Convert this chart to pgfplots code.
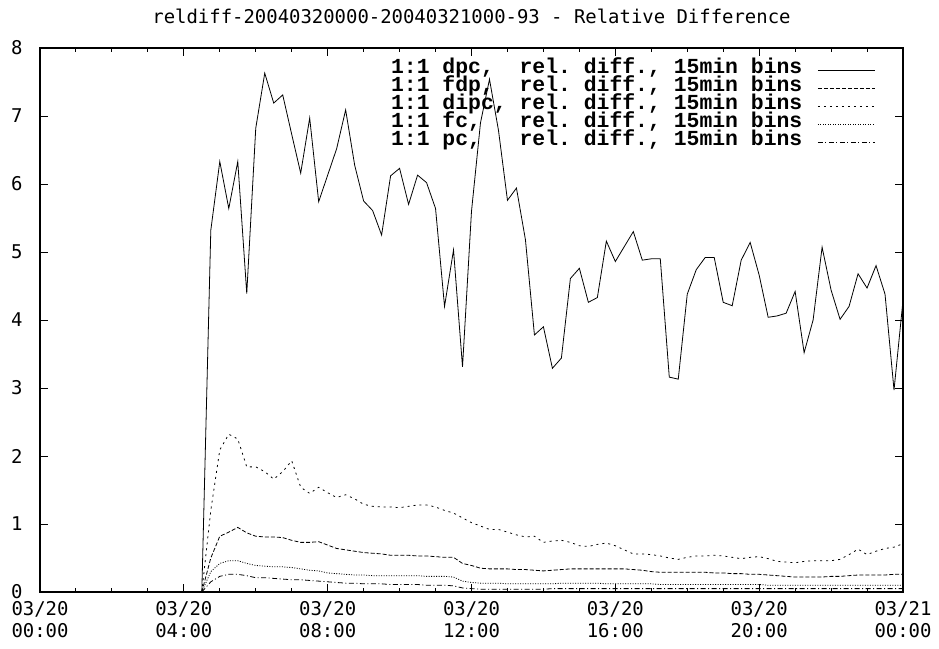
\documentclass[border=0pt]{standalone}
\usepackage{fontspec}
\usepackage{pgfplots}
\usepackage{pgfplotstable}
\pgfplotsset{compat=1.18}
\setmainfont{DejaVu Sans Mono}
\newfontfamily\legfont{Liberation Mono}

% h = hour of day (15 min bins), relative differences
\pgfplotstableread{
h     dpc   fdp   dipc  fc    pc
4.50  0     0     0     0     0
4.75  5.32  0.50  1.20  0.30  0.15
5.00  6.33  0.82  2.09  0.42  0.23
5.25  5.64  0.88  2.32  0.46  0.26
5.50  6.33  0.95  2.25  0.46  0.26
5.75  4.39  0.87  1.84  0.42  0.24
6.00  6.82  0.82  1.84  0.39  0.21
6.25  7.63  0.81  1.77  0.38  0.21
6.50  7.19  0.81  1.66  0.37  0.20
6.75  7.31  0.80  1.77  0.37  0.19
7.00  6.73  0.76  1.93  0.36  0.18
7.25  6.16  0.73  1.54  0.34  0.18
7.50  6.97  0.73  1.45  0.32  0.17
7.75  5.74  0.74  1.54  0.31  0.16
8.00  6.13  0.69  1.46  0.28  0.15
8.25  6.52  0.64  1.39  0.27  0.14
8.50  7.09  0.62  1.43  0.26  0.13
8.75  6.28  0.60  1.37  0.25  0.13
9.00  5.75  0.58  1.29  0.25  0.12
9.25  5.61  0.57  1.26  0.24  0.12
9.50  5.25  0.56  1.25  0.24  0.12
9.75  6.12  0.54  1.25  0.24  0.11
10.00 6.23  0.54  1.24  0.24  0.11
10.25 5.70  0.54  1.26  0.24  0.11
10.50 6.13  0.53  1.28  0.24  0.11
10.75 6.02  0.53  1.28  0.23  0.10
11.00 5.64  0.52  1.25  0.23  0.10
11.25 4.20  0.51  1.20  0.23  0.10
11.50 5.03  0.51  1.16  0.22  0.09
11.75 3.31  0.42  1.09  0.16  0.06
12.00 5.60  0.39  1.02  0.14  0.05
12.25 6.90  0.35  0.97  0.13  0.04
12.50 7.54  0.34  0.92  0.13  0.04
12.75 6.79  0.34  0.92  0.13  0.04
13.00 5.76  0.34  0.88  0.12  0.04
13.25 5.94  0.33  0.84  0.12  0.04
13.50 5.18  0.33  0.81  0.12  0.04
13.75 3.78  0.32  0.82  0.12  0.04
14.00 3.90  0.31  0.73  0.12  0.04
14.25 3.29  0.32  0.75  0.12  0.05
14.50 3.44  0.33  0.76  0.13  0.05
14.75 4.61  0.34  0.73  0.13  0.05
15.00 4.76  0.34  0.68  0.13  0.05
15.25 4.26  0.34  0.67  0.13  0.05
15.50 4.33  0.34  0.70  0.13  0.05
15.75 5.16  0.34  0.72  0.12  0.05
16.00 4.86  0.34  0.68  0.12  0.05
16.25 5.08  0.34  0.62  0.12  0.05
16.50 5.30  0.33  0.56  0.12  0.05
16.75 4.88  0.32  0.56  0.12  0.05
17.00 4.90  0.30  0.55  0.12  0.05
17.25 4.90  0.29  0.53  0.11  0.05
17.50 3.16  0.29  0.50  0.11  0.05
17.75 3.13  0.29  0.48  0.11  0.05
18.00 4.38  0.29  0.51  0.11  0.05
18.25 4.74  0.29  0.53  0.11  0.05
18.50 4.92  0.29  0.53  0.11  0.05
18.75 4.92  0.28  0.54  0.11  0.05
19.00 4.26  0.28  0.53  0.11  0.05
19.25 4.21  0.27  0.51  0.11  0.05
19.50 4.88  0.27  0.49  0.11  0.05
19.75 5.14  0.26  0.51  0.11  0.05
20.00 4.66  0.26  0.52  0.11  0.05
20.25 4.04  0.25  0.49  0.10  0.05
20.50 4.06  0.24  0.45  0.10  0.05
20.75 4.10  0.23  0.44  0.10  0.05
21.00 4.42  0.22  0.43  0.10  0.05
21.25 3.52  0.22  0.45  0.10  0.05
21.50 4.00  0.22  0.46  0.10  0.05
21.75 5.07  0.22  0.46  0.10  0.05
22.00 4.44  0.23  0.46  0.10  0.05
22.25 4.01  0.23  0.48  0.10  0.05
22.50 4.20  0.24  0.55  0.10  0.05
22.75 4.68  0.25  0.63  0.10  0.05
23.00 4.47  0.25  0.55  0.10  0.05
23.25 4.80  0.25  0.60  0.10  0.05
23.50 4.38  0.25  0.64  0.10  0.05
23.75 2.97  0.26  0.66  0.10  0.05
24.00 4.29  0.26  0.71  0.10  0.05
}\reldiff

\begin{document}
\begin{tikzpicture}
\useasboundingbox (-40bp,-57bp) rectangle (899bp,592bp);
\begin{axis}[
    scale only axis,
    width=863bp, height=544bp,
    xmin=0, xmax=24, ymin=0, ymax=8,
    xtick={0,4,...,24},
    minor xtick={1,2,3,5,6,7,9,10,11,13,14,15,17,18,19,21,22,23},
    xticklabels={03/20\\00:00,03/20\\04:00,03/20\\08:00,03/20\\12:00,03/20\\16:00,03/20\\20:00,03/21\\00:00},
    ytick={0,1,...,8},
    tick align=inside,
    major tick length=8bp, minor tick length=4bp,
    tick style={black, line width=1bp},
    axis line style={line width=1.6bp},
    /pgf/number format/assume math mode=true,
    xticklabel style={align=center, font=\fontsize{19}{22}\selectfont, yshift=-6bp},
    yticklabel style={font=\fontsize{19}{22}\selectfont, xshift=-14bp},
    title={reldiff-20040320000-20040321000-93 - Relative Difference},
    title style={font=\fontsize{19}{22}\selectfont, anchor=base, at={(0.5,1)}, yshift=19bp},
    no markers,
    legend plot pos=right,
    legend cell align=right,
    legend image code/.code={\draw[#1] (0bp,0bp) -- (57bp,0bp);},
    legend style={draw=none, fill=none, at={(0.968,0.976)}, anchor=north east,
        inner sep=0pt, row sep=0pt, column sep=15bp,
        font=\legfont\bfseries\fontsize{21.5}{22}\selectfont,
        nodes={inner sep=0pt, text height=12bp, text depth=6bp}},
    every axis plot/.append style={black, line width=0.8bp},
]
\addplot[solid] table[x=h, y=dpc] {\reldiff};
\addlegendentry{1:1~dpc,~~rel.~diff.,~15min~bins}
\addplot[dash pattern=on 4bp off 2bp] table[x=h, y=fdp] {\reldiff};
\addlegendentry{1:1~fdp,~~rel.~diff.,~15min~bins}
\addplot[dash pattern=on 2bp off 4bp] table[x=h, y=dipc] {\reldiff};
\addlegendentry{1:1~dipc,~rel.~diff.,~15min~bins}
\addplot[dash pattern=on 1bp off 1.5bp] table[x=h, y=fc] {\reldiff};
\addlegendentry{1:1~fc,~~~rel.~diff.,~15min~bins}
\addplot[dash pattern=on 5bp off 2.5bp on 1bp off 2.5bp] table[x=h, y=pc] {\reldiff};
\addlegendentry{1:1~pc,~~~rel.~diff.,~15min~bins}
\end{axis}
\end{tikzpicture}
\end{document}
